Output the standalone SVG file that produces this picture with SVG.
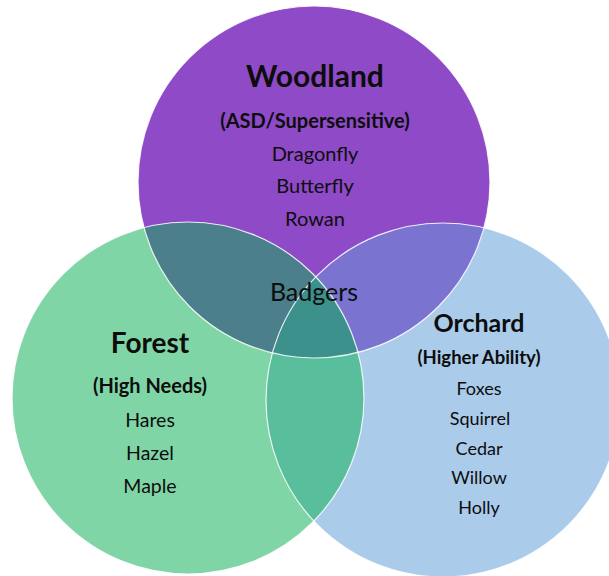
<svg xmlns="http://www.w3.org/2000/svg" width="609" height="576" viewBox="0 0 609 576">
<style>
  text { font-family: Lato, "Liberation Sans", sans-serif; fill: #0d0d0d; text-anchor: middle; }
  .title { font-weight: bold; font-size: 28px; }
  .sub { font-weight: bold; font-size: 20px; }
  .item { font-size: 19.5px; }
  .badge { font-size: 25px; }
  .outline { fill: none; stroke: #ffffff; stroke-width: 1.2; stroke-opacity: 0.85; }
</style>
<defs>
  <clipPath id="clipP"><circle cx="314" cy="182" r="176"/></clipPath>
  <clipPath id="clipG"><circle cx="188" cy="398" r="176"/></clipPath>
</defs>
<rect width="609" height="576" fill="#ffffff"/>
<g id="woodland">
  <circle cx="314" cy="182" r="176" fill="#8F4AC8"/>
</g>
<g id="forest">
  <circle cx="188" cy="398" r="176" fill="#80D5A6"/>
</g>
<g id="orchard">
  <circle cx="443" cy="400" r="177" fill="#AACBEA"/>
</g>
<g id="overlaps">
  <circle cx="188" cy="398" r="176" fill="#4A7F8B" clip-path="url(#clipP)"/>
  <circle cx="443" cy="400" r="177" fill="#7A74D0" clip-path="url(#clipP)"/>
  <circle cx="443" cy="400" r="177" fill="#59BE9C" clip-path="url(#clipG)"/>
  <g clip-path="url(#clipP)">
    <circle cx="443" cy="400" r="177" fill="#3D918C" clip-path="url(#clipG)"/>
  </g>
</g>
<g id="outlines">
  <circle class="outline" cx="314" cy="182" r="176" stroke-opacity="0.4"/>
  <circle class="outline" cx="188" cy="398" r="176"/>
  <circle class="outline" cx="443" cy="400" r="177"/>
</g>
<g id="woodland-text">
  <text class="title" x="315" y="87" style="font-size:30px">Woodland</text>
  <text class="sub" x="315" y="128">(ASD/Supersensitive)</text>
  <text class="item" x="315" y="161" style="font-size:20px">Dragonfly</text>
  <text class="item" x="315" y="193" style="font-size:20px">Butterfly</text>
  <text class="item" x="315" y="226" style="font-size:20px">Rowan</text>
</g>
<g id="forest-text">
  <text class="title" x="150" y="353">Forest</text>
  <text class="sub" x="150" y="393">(High Needs)</text>
  <text class="item" x="150" y="427">Hares</text>
  <text class="item" x="150" y="460">Hazel</text>
  <text class="item" x="150" y="493">Maple</text>
</g>
<g id="orchard-text">
  <text class="title" x="479" y="332" style="font-size:25px">Orchard</text>
  <text class="sub" x="479" y="364" style="font-size:18.5px">(Higher Ability)</text>
  <text class="item" x="479" y="395" style="font-size:18px">Foxes</text>
  <text class="item" x="480" y="425" style="font-size:18px">Squirrel</text>
  <text class="item" x="479" y="455" style="font-size:18px">Cedar</text>
  <text class="item" x="479" y="484" style="font-size:18px">Willow</text>
  <text class="item" x="479" y="514" style="font-size:18px">Holly</text>
</g>
<g id="badgers">
  <text class="badge" x="314" y="301">Badgers</text>
</g>
</svg>
